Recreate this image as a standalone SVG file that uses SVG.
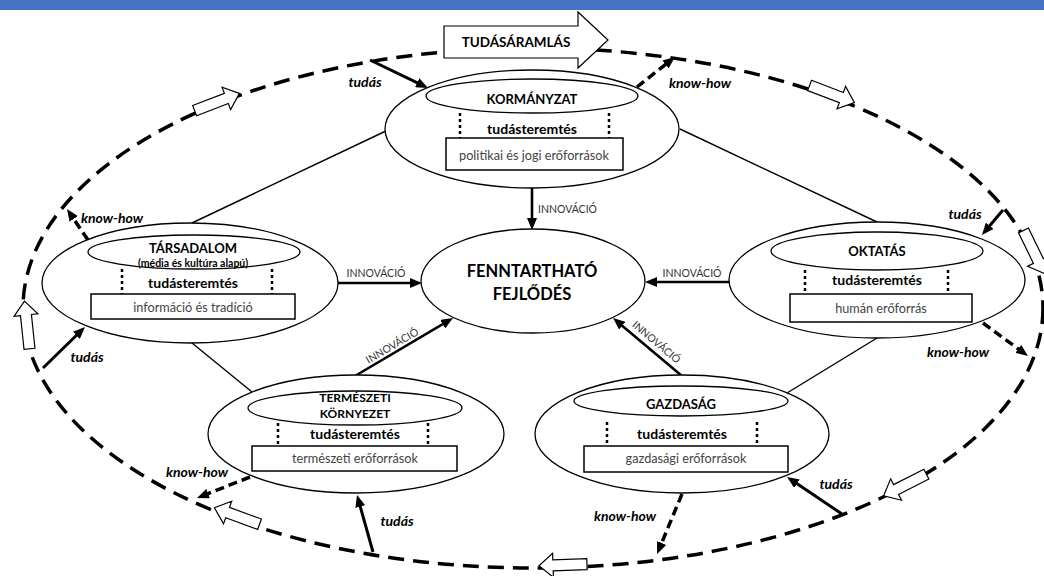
<svg xmlns="http://www.w3.org/2000/svg" width="1044" height="576" viewBox="0 0 1044 576">
<defs>
<style>
text{font-family:Lato,"Liberation Sans",sans-serif;fill:#000}
.node{fill:#fff;stroke:#000;stroke-width:1.3}
.box{fill:#fff;stroke:#000;stroke-width:1.5}
.dot{stroke:#000;stroke-width:2.5;stroke-dasharray:3 3;fill:none}
.title{font-weight:700;font-size:13px;text-anchor:middle}
.ts{font-weight:700;font-size:14px;text-anchor:middle}
.res{font-size:12.7px;text-anchor:middle;fill:#444}
.inn{font-size:10.5px;fill:#333}
.lbl{font-weight:700;font-style:italic;font-size:14px;text-anchor:middle}
.thin{stroke:#000;stroke-width:1.4;fill:none}
.solid{stroke:#000;stroke-width:3;fill:none;marker-end:url(#ah)}
.innov{stroke:#000;stroke-width:2.6;fill:none;marker-end:url(#ah)}
.kh{stroke:#000;stroke-width:3.5;fill:none;stroke-dasharray:9 5;marker-end:url(#ah)}
.ring{fill:none;stroke:#000;stroke-width:3.5;stroke-dasharray:16 9}
.hollow{fill:#fff;stroke:#000;stroke-width:1.2}
</style>
<marker id="ah" viewBox="0 0 12 10" refX="2" refY="5" markerWidth="12" markerHeight="10" markerUnits="userSpaceOnUse" orient="auto">
<path d="M0,0 L12,5 L0,10 z" fill="#000"/>
</marker>
<path id="ha" d="M-24,-5.5 L10,-5.5 L10,-12 L24,0 L10,12 L10,5.5 L-24,5.5 Z"/>
</defs>
<rect x="0" y="0" width="1044" height="576" fill="#fff"/>
<rect x="0" y="0" width="1044" height="10" fill="#4472C4"/>

<g id="knowledge-flow">
<ellipse class="ring" cx="533" cy="308" rx="510" ry="260"/>
<use href="#ha" class="hollow" transform="translate(217,102) rotate(-21)"/>
<use href="#ha" class="hollow" transform="translate(832,94) rotate(21)"/>
<use href="#ha" class="hollow" transform="translate(1034,252) rotate(64)"/>
<use href="#ha" class="hollow" transform="translate(905,485) rotate(153)"/>
<use href="#ha" class="hollow" transform="translate(563,565) rotate(178)"/>
<use href="#ha" class="hollow" transform="translate(237,516) rotate(-160)"/>
<use href="#ha" class="hollow" transform="translate(27,325) rotate(-96)"/>
<polygon class="hollow" points="444,26 578,26 578,12 608,40 578,68 578,58 444,58"/>
<text x="516" y="47" style="font-weight:700;font-size:13.5px;text-anchor:middle">TUDÁSÁRAMLÁS</text>
</g>

<g id="connectors">
<line class="thin" x1="388" y1="130" x2="192" y2="223"/>
<line class="thin" x1="680" y1="129" x2="877" y2="222"/>
<line class="thin" x1="192" y1="343" x2="252" y2="392"/>
<line class="thin" x1="877" y1="338" x2="787" y2="393"/>

<line class="innov" x1="532" y1="188" x2="532" y2="220"/>
<line class="innov" x1="338" y1="283" x2="412" y2="283"/>
<line class="innov" x1="730" y1="282" x2="655" y2="282"/>
<line class="innov" x1="355" y1="376" x2="444.4" y2="323.1"/>
<line class="innov" x1="682" y1="376" x2="620.7" y2="324.4"/>
<text class="inn" x="538" y="213">INNOVÁCIÓ</text>
<text class="inn" x="376" y="277" text-anchor="middle">INNOVÁCIÓ</text>
<text class="inn" x="692" y="277" text-anchor="middle">INNOVÁCIÓ</text>
<text class="inn" x="394" y="349" text-anchor="middle" transform="rotate(-30.6 394 349)">INNOVÁCIÓ</text>
<text class="inn" x="654" y="345" text-anchor="middle" transform="rotate(40 654 345)">INNOVÁCIÓ</text>

<line class="solid" x1="370" y1="60" x2="419" y2="83.6"/>
<line class="solid" x1="1003" y1="210" x2="988.4" y2="227.3"/>
<line class="solid" x1="43" y1="368" x2="77.8" y2="334"/>
<line class="solid" x1="373" y1="552" x2="359.7" y2="504.6"/>
<line class="solid" x1="842" y1="514" x2="795.3" y2="482.6"/>
<text class="lbl" x="365" y="87">tudás</text>
<text class="lbl" x="965" y="219">tudás</text>
<text class="lbl" x="87" y="362">tudás</text>
<text class="lbl" x="397" y="526">tudás</text>
<text class="lbl" x="836" y="489">tudás</text>

<line class="kh" x1="637" y1="87" x2="667.1" y2="63.2"/>
<line class="kh" x1="88" y1="240" x2="72.6" y2="217.3"/>
<line class="kh" x1="983" y1="323" x2="1019.9" y2="350.1"/>
<line class="kh" x1="250" y1="477" x2="206.3" y2="494.3"/>
<line class="kh" x1="682" y1="494" x2="660.9" y2="544.8"/>
<text class="lbl" x="700" y="88">know-how</text>
<text class="lbl" x="112" y="223">know-how</text>
<text class="lbl" x="958" y="357">know-how</text>
<text class="lbl" x="197" y="477">know-how</text>
<text class="lbl" x="625" y="521">know-how</text>
</g>

<g id="n-kormanyzat">
<ellipse class="node" cx="532" cy="129" rx="147" ry="59"/>
<ellipse class="node" cx="532" cy="96" rx="106" ry="17"/>
<text class="title" x="532" y="104">KORMÁNYZAT</text>
<line class="dot" x1="460" y1="113" x2="460" y2="138"/>
<line class="dot" x1="609" y1="113" x2="609" y2="138"/>
<text class="ts" x="532" y="134">tudásteremtés</text>
<rect class="box" x="446" y="138" width="177" height="32"/>
<text class="res" x="534" y="160">politikai és jogi erőforrások</text>
</g>

<g id="n-tarsadalom">
<ellipse class="node" cx="190" cy="283" rx="148" ry="60"/>
<ellipse class="node" cx="194" cy="252" rx="106" ry="17"/>
<text class="title" x="193" y="253">TÁRSADALOM</text>
<text x="193" y="267" style="font-weight:700;font-size:10.5px;text-anchor:middle">(média és kultúra alapú)</text>
<line class="dot" x1="122" y1="269" x2="122" y2="294"/>
<line class="dot" x1="272" y1="269" x2="272" y2="294"/>
<text class="ts" x="193" y="288">tudásteremtés</text>
<rect class="box" x="91" y="294" width="204" height="25"/>
<text class="res" x="193" y="312">információ és tradíció</text>
</g>

<g id="n-oktatas">
<ellipse class="node" cx="877" cy="280" rx="148" ry="58"/>
<ellipse class="node" cx="877" cy="251" rx="106" ry="19"/>
<text class="title" x="877" y="256">OKTATÁS</text>
<line class="dot" x1="805" y1="270" x2="805" y2="294"/>
<line class="dot" x1="948" y1="270" x2="948" y2="294"/>
<text class="ts" x="877" y="285">tudásteremtés</text>
<rect class="box" x="790" y="294" width="182" height="28"/>
<text class="res" x="881" y="313">humán erőforrás</text>
</g>

<g id="n-fenntarthato">
<ellipse class="node" cx="533" cy="281" rx="112" ry="52"/>
<text x="532" y="277" style="font-weight:700;font-size:16.5px;text-anchor:middle">FENNTARTHATÓ</text>
<text x="532" y="300" style="font-weight:700;font-size:16.5px;text-anchor:middle">FEJLŐDÉS</text>
</g>

<g id="n-termeszeti">
<ellipse class="node" cx="356" cy="434" rx="148" ry="59"/>
<ellipse class="node" cx="355" cy="408" rx="107" ry="17"/>
<text class="title" x="355" y="402" style="font-size:12px">TERMÉSZETI</text>
<text class="title" x="355" y="418" style="font-size:12px">KÖRNYEZET</text>
<line class="dot" x1="278" y1="423" x2="278" y2="446"/>
<line class="dot" x1="428" y1="423" x2="428" y2="446"/>
<text class="ts" x="355" y="439">tudásteremtés</text>
<rect class="box" x="252" y="446" width="205" height="25"/>
<text class="res" x="355" y="463">természeti erőforrások</text>
</g>

<g id="n-gazdasag">
<ellipse class="node" cx="682" cy="434" rx="147" ry="59"/>
<ellipse class="node" cx="681" cy="401" rx="107" ry="15"/>
<text class="title" x="681" y="409">GAZDASÁG</text>
<line class="dot" x1="607" y1="422" x2="607" y2="446"/>
<line class="dot" x1="757" y1="422" x2="757" y2="446"/>
<text class="ts" x="682" y="439">tudásteremtés</text>
<rect class="box" x="584" y="446" width="204" height="26"/>
<text class="res" x="686" y="463">gazdasági erőforrások</text>
</g>
</svg>
